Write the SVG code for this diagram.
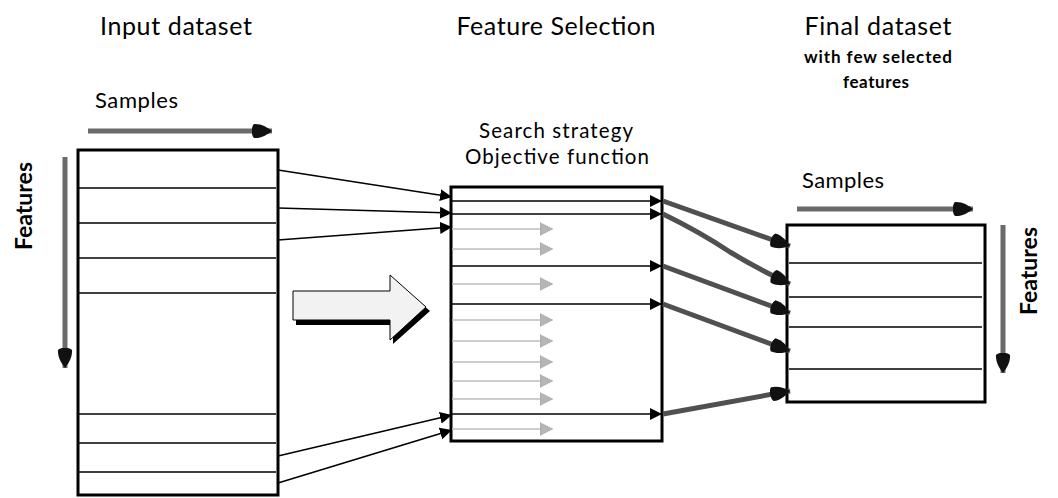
<svg xmlns="http://www.w3.org/2000/svg" width="1058" height="498" viewBox="0 0 1058 498">
<defs>
<style>
.t{font-family:Lato,"Liberation Sans",Arial,sans-serif;fill:#000}
.title{font-size:25px}
.lab{font-size:22px}
.lab2{font-size:20.5px}
.sub{font-size:17px;font-weight:bold}
.feat{font-size:23px;font-weight:bold}
.box{fill:#fff;stroke:#000;stroke-width:3}
.row{stroke:#000;stroke-width:1.5}
.grow{stroke:#bdbdbd;stroke-width:1.5}
.conn{stroke:#000;stroke-width:1.6;fill:none}
.thick{stroke:#505050;stroke-width:5;fill:none}
.axis{stroke:#6a6a6a;stroke-width:5;fill:none}
</style>
<marker id="tri" markerUnits="userSpaceOnUse" markerWidth="14" markerHeight="14" viewBox="0 -7 14 14" refX="12" refY="0" orient="auto">
<path d="M0,-6 L12,0 L0,6 Z" fill="#000"/>
</marker>
<marker id="gtri" markerUnits="userSpaceOnUse" markerWidth="16" markerHeight="16" viewBox="0 -8 16 16" refX="0" refY="0" orient="auto">
<path d="M0,-6.5 L13,0 L0,6.5 Z" fill="#b5b5b5" stroke="#8a8a8a" stroke-width="0.6" stroke-dasharray="1 1"/>
</marker>
<marker id="blob" markerUnits="userSpaceOnUse" markerWidth="24" markerHeight="18" viewBox="0 -9 24 18" refX="20" refY="0" orient="auto">
<path d="M2,-7 C9,-7.5 15,-4 20,0 C15,4 9,7.5 2,7 C-1,4 -1,-4 2,-7 Z" fill="#111"/>
</marker>
</defs>
<rect width="1058" height="498" fill="#fff"/>

<g id="input-dataset">
<text class="t title" x="176" y="35" text-anchor="middle" textLength="152" lengthAdjust="spacing">Input dataset</text>
<text class="t lab" x="95" y="108" textLength="83" lengthAdjust="spacing">Samples</text>
<text class="t feat" transform="translate(32,206) rotate(-90)" text-anchor="middle" textLength="88" lengthAdjust="spacing">Features</text>
<rect class="box" x="78" y="150" width="200" height="345"/>
<line class="row" x1="79" y1="188" x2="276" y2="188"/>
<line class="row" x1="79" y1="223" x2="276" y2="223"/>
<line class="row" x1="79" y1="258" x2="276" y2="258"/>
<line class="row" x1="79" y1="293" x2="276" y2="293"/>
<line class="row" x1="79" y1="414" x2="276" y2="414"/>
<line class="row" x1="79" y1="443" x2="276" y2="443"/>
<line class="row" x1="79" y1="472" x2="276" y2="472"/>
</g>

<g id="big-arrow">
<path d="M296,295 L393,295 L393,279 L430,311 L393,344 L393,325 L296,325 Z" fill="#000"/>
<path d="M293,291 L390,291 L390,275 L426,307 L390,340 L390,320 L293,320 Z" fill="#f2f2f2" stroke="#000" stroke-width="1"/>
</g>

<g id="feature-selection">
<text class="t title" x="556" y="35" text-anchor="middle" textLength="199" lengthAdjust="spacing">Feature Selection</text>
<text class="t lab2" x="556" y="138" text-anchor="middle" textLength="154" lengthAdjust="spacing">Search strategy</text>
<text class="t lab2" x="557" y="164" text-anchor="middle" textLength="184" lengthAdjust="spacing">Objective function</text>
<rect class="box" x="451" y="187" width="211" height="254"/>
<g>
<line class="grow" x1="452" y1="229" x2="540" y2="229" marker-end="url(#gtri)"/>
<line class="grow" x1="452" y1="249" x2="540" y2="249" marker-end="url(#gtri)"/>
<line class="grow" x1="452" y1="284" x2="540" y2="284" marker-end="url(#gtri)"/>
<line class="grow" x1="452" y1="320" x2="540" y2="320" marker-end="url(#gtri)"/>
<line class="grow" x1="452" y1="341" x2="540" y2="341" marker-end="url(#gtri)"/>
<line class="grow" x1="452" y1="362" x2="540" y2="362" marker-end="url(#gtri)"/>
<line class="grow" x1="452" y1="381" x2="540" y2="381" marker-end="url(#gtri)"/>
<line class="grow" x1="452" y1="399" x2="540" y2="399" marker-end="url(#gtri)"/>
<line class="grow" x1="452" y1="429" x2="540" y2="429" marker-end="url(#gtri)"/>
</g>
<g>
<line class="row" x1="452" y1="201" x2="662" y2="201" marker-end="url(#tri)"/>
<line class="row" x1="452" y1="214" x2="662" y2="214" marker-end="url(#tri)"/>
<line class="row" x1="452" y1="266" x2="662" y2="266" marker-end="url(#tri)"/>
<line class="row" x1="452" y1="304" x2="662" y2="304" marker-end="url(#tri)"/>
<line class="row" x1="452" y1="414" x2="662" y2="414" marker-end="url(#tri)"/>
</g>
</g>

<g id="final-dataset">
<text class="t title" x="878" y="35" text-anchor="middle" textLength="147" lengthAdjust="spacing">Final dataset</text>
<text class="t sub" x="878" y="63" text-anchor="middle" textLength="148" lengthAdjust="spacing">with few selected</text>
<text class="t sub" x="876" y="88" text-anchor="middle" textLength="66" lengthAdjust="spacing">features</text>
<text class="t lab" x="802" y="188" textLength="82" lengthAdjust="spacing">Samples</text>
<text class="t feat" transform="translate(1037,271) rotate(-90)" text-anchor="middle" textLength="88" lengthAdjust="spacing">Features</text>
<rect class="box" x="787" y="225" width="198" height="177"/>
<line class="row" x1="789" y1="263" x2="982" y2="263"/>
<line class="row" x1="789" y1="297" x2="982" y2="297"/>
<line class="row" x1="789" y1="327" x2="982" y2="327"/>
<line class="row" x1="789" y1="369" x2="982" y2="369"/>
</g>

<g id="connectors">
<line class="axis" x1="88" y1="131" x2="272" y2="131" marker-end="url(#blob)"/>
<line class="axis" x1="65" y1="157" x2="65" y2="368" marker-end="url(#blob)"/>
<line class="axis" x1="797" y1="209" x2="973" y2="209" marker-end="url(#blob)"/>
<line class="axis" x1="1003" y1="225" x2="1003" y2="373" marker-end="url(#blob)"/>

<line class="conn" x1="278" y1="170" x2="452" y2="197" marker-end="url(#tri)"/>
<line class="conn" x1="278" y1="208" x2="452" y2="213" marker-end="url(#tri)"/>
<line class="conn" x1="278" y1="240" x2="452" y2="227" marker-end="url(#tri)"/>
<line class="conn" x1="278" y1="456" x2="452" y2="415" marker-end="url(#tri)"/>
<line class="conn" x1="278" y1="483" x2="452" y2="430" marker-end="url(#tri)"/>

<line class="thick" x1="663" y1="201" x2="790" y2="246" marker-end="url(#blob)"/>
<path class="thick" d="M663,214 Q700,232 730,252 Q760,270 790,284" marker-end="url(#blob)"/>
<line class="thick" x1="663" y1="266" x2="790" y2="313" marker-end="url(#blob)"/>
<line class="thick" x1="663" y1="304" x2="790" y2="351" marker-end="url(#blob)"/>
<line class="thick" x1="663" y1="414" x2="790" y2="391" marker-end="url(#blob)"/>
</g>
</svg>
